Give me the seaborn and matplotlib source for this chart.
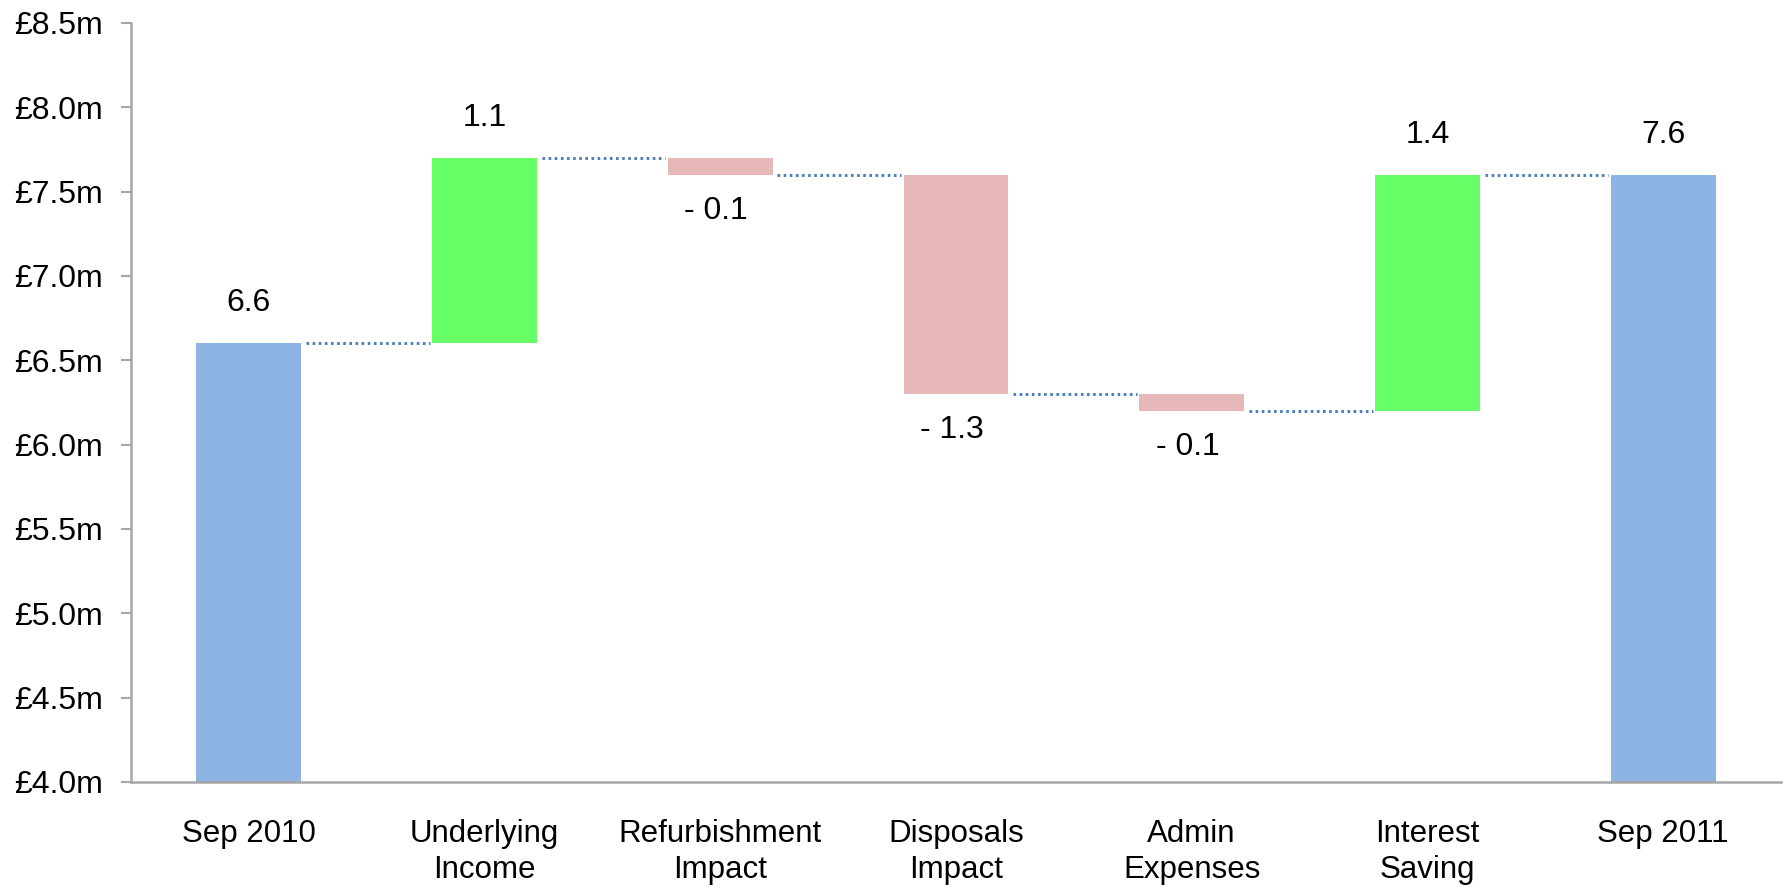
import numpy as np
import pandas as pd
import matplotlib
matplotlib.use("Agg")
import matplotlib.pyplot as plt
import seaborn as sns

# ------- DATA ---------
categories = ["Sep 2010", "Underlying\nIncome", "Refurbishment\nImpact", "Disposals\nImpact",
              "Admin\nExpenses", "Interest\nSaving", "Sep 2011"]
changes = [6.6, 1.1, -0.1, -1.3, -0.1, 1.4, 7.6]
is_total = [True, False, False, False, False, False, True]
ytick_values = [4.0, 4.5, 5.0, 5.5, 6.0, 6.5, 7.0, 7.5, 8.0, 8.5]

# ------- WATERFALL GEOMETRY ---------
bottoms, heights, levels = [], [], []
running = 0.0
for v, tot in zip(changes, is_total):
    if tot:
        bottoms.append(0.0)
        heights.append(v)
        running = v
    else:
        bottoms.append(running + min(v, 0))
        heights.append(abs(v))
        running += v
    levels.append(running)

df = pd.DataFrame({"category": categories, "height": heights, "bottom": bottoms})

total_color = "#8EB4E3"
pos_color = "#66FF66"
neg_color = "#E6B9B8"
bar_colors = [total_color if t else (pos_color if v > 0 else neg_color)
              for v, t in zip(changes, is_total)]

# ------- PLOT ---------
sns.set_style("white")
plt.rcParams['font.family'] = ['Liberation Sans', 'DejaVu Sans']
plt.rcParams['text.color'] = 'black'
plt.rcParams['xtick.labelcolor'] = 'black'
plt.rcParams['ytick.labelcolor'] = 'black'

fig = plt.figure(figsize=(17.87, 8.88), dpi=100)
ax = fig.add_axes([0.0733, 0.1194, 0.9233, 0.8547])

bar_w = 0.445
sns.barplot(data=df, x="category", y="height", bottom=df["bottom"].values,
            width=bar_w, errorbar=None, ax=ax, linewidth=0,
            color=total_color, saturation=1)
for patch, c in zip(ax.patches, bar_colors):
    patch.set_facecolor(c)
    patch.set_edgecolor("none")

# connector lines between bars
for i in range(len(categories) - 1):
    ax.plot([i + bar_w / 2 + 0.02, i + 1 - bar_w / 2 - 0.01], [levels[i], levels[i]],
            color="#4A7EBB", lw=2.1, linestyle=(0, (0.9, 1.2)), solid_capstyle="butt")

# value labels
for i, (v, t) in enumerate(zip(changes, is_total)):
    if v >= 0:
        top = bottoms[i] + heights[i]
        ax.annotate(f"{v:.1f}", (i, top), xytext=(0, 29), textcoords="offset points",
                    ha="center", va="center", fontsize=23, color="black")
    else:
        ax.annotate(f"- {abs(v):.1f}", (i, bottoms[i]), xytext=(-3, -26), textcoords="offset points",
                    ha="center", va="center", fontsize=23, color="black")

ax.set_ylim(4.0, 8.5)
ax.set_xlim(-0.5, len(categories) - 0.5)
ax.set_yticks(ytick_values)
ax.set_yticklabels([f"£{v:.1f}m" for v in ytick_values])
ax.set_xlabel("")
ax.set_ylabel("")

sns.despine(ax=ax, top=True, right=True)
for side in ["left", "bottom"]:
    ax.spines[side].set_color("#A6A6A6")
    ax.spines[side].set_linewidth(1.8)

ax.tick_params(axis="y", which="major", direction="out", length=7, width=1.5,
               color="#A6A6A6", pad=13, labelsize=23, left=True, labelcolor="black")
ax.tick_params(axis="x", length=0, pad=27, labelsize=22.5, labelcolor="black")
for lbl in ax.get_xticklabels():
    lbl.set_linespacing(1.22)

fig.savefig("out.png", dpi=100)
